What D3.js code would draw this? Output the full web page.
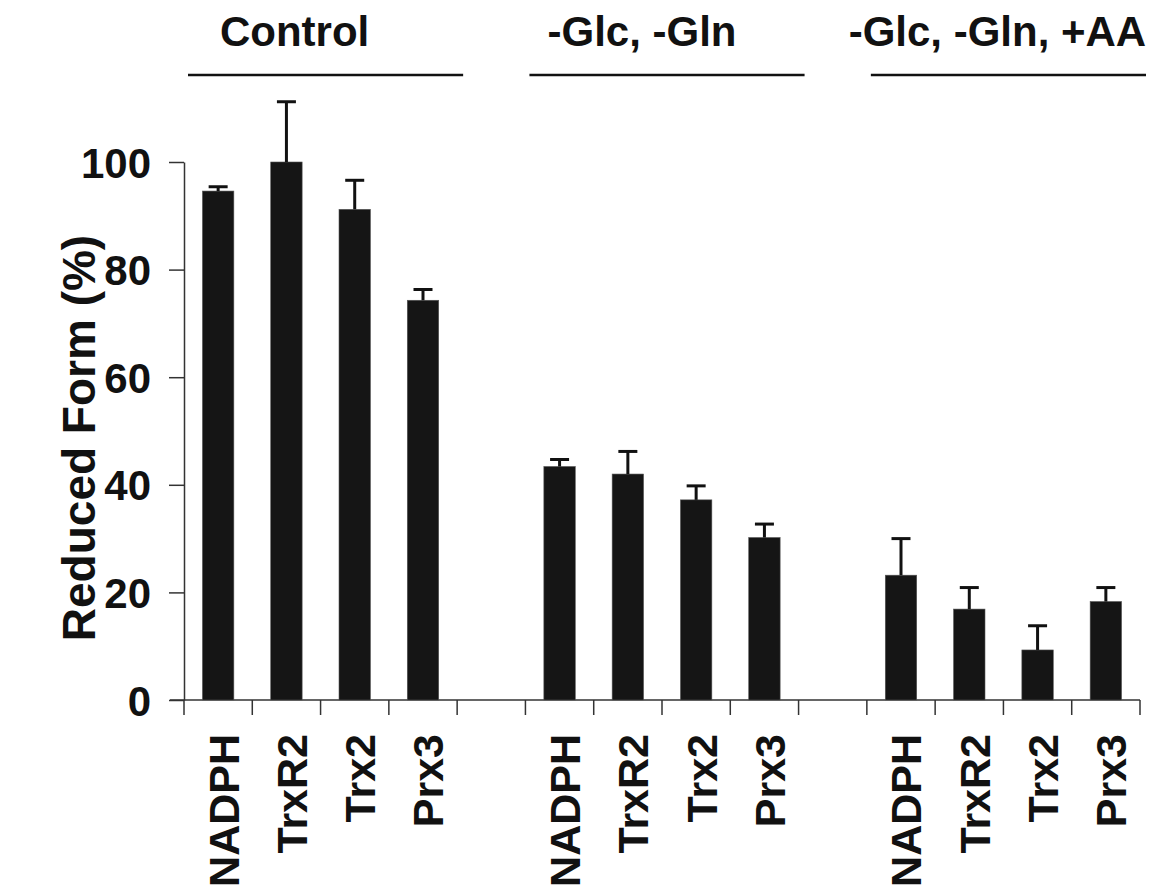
<!DOCTYPE html>
<html lang="en">
<head>
    <meta charset="UTF-8">
    <title>Reduced form bar chart</title>
    <script src="https://cdn.jsdelivr.net/npm/d3@7"></script>
    <style>
        body { margin: 0; background: #fff; }
        text { font-family: "Liberation Sans", Arial, sans-serif; font-weight: bold; fill: #111; }
    </style>
</head>
<body>
<script>
    // data
    const groups = ["Control", "-Glc, -Gln", "-Glc, -Gln, +AA"];
    const markers = ["NADPH", "TrxR2", "Trx2", "Prx3"];
    const controlVals = [94.6, 100, 91.2, 74.3];
    const controlErr = [0.8, 11.2, 5.4, 2.0];
    const starvedVals = [43.4, 42.0, 37.2, 30.2];
    const starvedErr = [1.3, 4.2, 2.6, 2.5];
    const aaVals = [23.2, 16.9, 9.3, 18.3];
    const aaErr = [6.8, 4.0, 4.5, 2.6];
    const yTicks = [0, 20, 40, 60, 80, 100];

    const width = 1158, height = 892;
    const slotsPerGroup = markers.length + 1; // one empty slot between groups
    const nSlots = groups.length * slotsPerGroup - 1;

    // flatten into rows, slot = position along the x axis
    const allVals = [controlVals, starvedVals, aaVals];
    const allErr = [controlErr, starvedErr, aaErr];
    const rows = [];
    groups.forEach((g, gi) => {
        markers.forEach((m, mi) => {
            rows.push({ group: g, marker: m, slot: gi * slotsPerGroup + mi, value: allVals[gi][mi], err: allErr[gi][mi] });
        });
    });

    const svg = d3.select("body").append("svg")
        .attr("width", width)
        .attr("height", height);

    const x = d3.scaleBand()
        .domain(d3.range(nSlots))
        .range([184, 1140]);

    const y = d3.scaleLinear()
        .domain([0, 100])
        .range([700, 162]);

    const barW = x.bandwidth() * 0.46;

    // y axis
    const yAxis = svg.append("g")
        .attr("transform", "translate(184,0)")
        .call(d3.axisLeft(y).tickValues(yTicks).tickSize(15).tickSizeOuter(0).tickPadding(18));
    yAxis.select(".domain").attr("stroke", "#333").attr("stroke-width", 1.5);
    yAxis.selectAll(".tick line").attr("stroke", "#333").attr("stroke-width", 1.5);
    yAxis.selectAll(".tick text")
        .attr("font-size", 42)
        .attr("dy", "0.36em")
        .attr("font-family", null)
        .attr("fill", "#111");

    // x axis: baseline plus ticks at every slot boundary
    const bottom = svg.append("g");
    bottom.append("line")
        .attr("x1", 170).attr("x2", x.range()[1])
        .attr("y1", y(0)).attr("y2", y(0))
        .attr("stroke", "#333").attr("stroke-width", 1.5);
    bottom.selectAll("line.tick")
        .data(d3.range(nSlots + 1))
        .join("line")
        .attr("class", "tick")
        .attr("x1", d => x.range()[0] + d * x.step())
        .attr("x2", d => x.range()[0] + d * x.step())
        .attr("y1", y(0)).attr("y2", y(0) + 15)
        .attr("stroke", "#333").attr("stroke-width", 1.5);

    // bars
    svg.append("g")
        .selectAll("rect")
        .data(rows)
        .join("rect")
        .attr("x", d => x(d.slot) + (x.bandwidth() - barW) / 2)
        .attr("y", d => y(d.value))
        .attr("width", barW)
        .attr("height", d => y(0) - y(d.value))
        .attr("fill", "#151515")
        .attr("stroke", "#555")
        .attr("stroke-width", 0.6);

    // error bars (upper only)
    const eb = svg.append("g").attr("stroke", "#111").attr("stroke-width", 3);
    eb.selectAll("line.stem")
        .data(rows)
        .join("line")
        .attr("class", "stem")
        .attr("x1", d => x(d.slot) + x.bandwidth() / 2)
        .attr("x2", d => x(d.slot) + x.bandwidth() / 2)
        .attr("y1", d => y(d.value))
        .attr("y2", d => y(d.value + d.err));
    eb.selectAll("line.cap")
        .data(rows)
        .join("line")
        .attr("class", "cap")
        .attr("x1", d => x(d.slot) + x.bandwidth() / 2 - 9.5)
        .attr("x2", d => x(d.slot) + x.bandwidth() / 2 + 9.5)
        .attr("y1", d => y(d.value + d.err))
        .attr("y2", d => y(d.value + d.err));

    // rotated category labels
    svg.append("g")
        .selectAll("text")
        .data(rows)
        .join("text")
        .attr("transform", d => `translate(${x(d.slot) + x.bandwidth() / 2 + 5},734) rotate(-90)`)
        .attr("text-anchor", "end")
        .attr("dy", "0.36em")
        .attr("font-size", 43)
        .text(d => d.marker);

    // group headers with rule underneath
    const headerDx = [-26, -20, -6];
    const head = svg.append("g");
    groups.forEach((g, gi) => {
        const x0 = x(gi * slotsPerGroup);
        const x1 = x(gi * slotsPerGroup + markers.length - 1) + x.bandwidth();
        head.append("line")
            .attr("x1", x0 + 4).attr("x2", x1 + 6)
            .attr("y1", 75).attr("y2", 75)
            .attr("stroke", "#111").attr("stroke-width", 2.5);
        head.append("text")
            .attr("x", (x0 + x1) / 2 + headerDx[gi])
            .attr("y", 46)
            .attr("text-anchor", "middle")
            .attr("font-size", 42)
            .text(g);
    });

    // y title
    svg.append("text")
        .attr("transform", `translate(78,${(y(0) + y(100)) / 2 + 7}) rotate(-90)`)
        .attr("text-anchor", "middle")
        .attr("dy", "0.36em")
        .attr("font-size", 46)
        .text("Reduced Form (%)");
</script>
</body>
</html>
